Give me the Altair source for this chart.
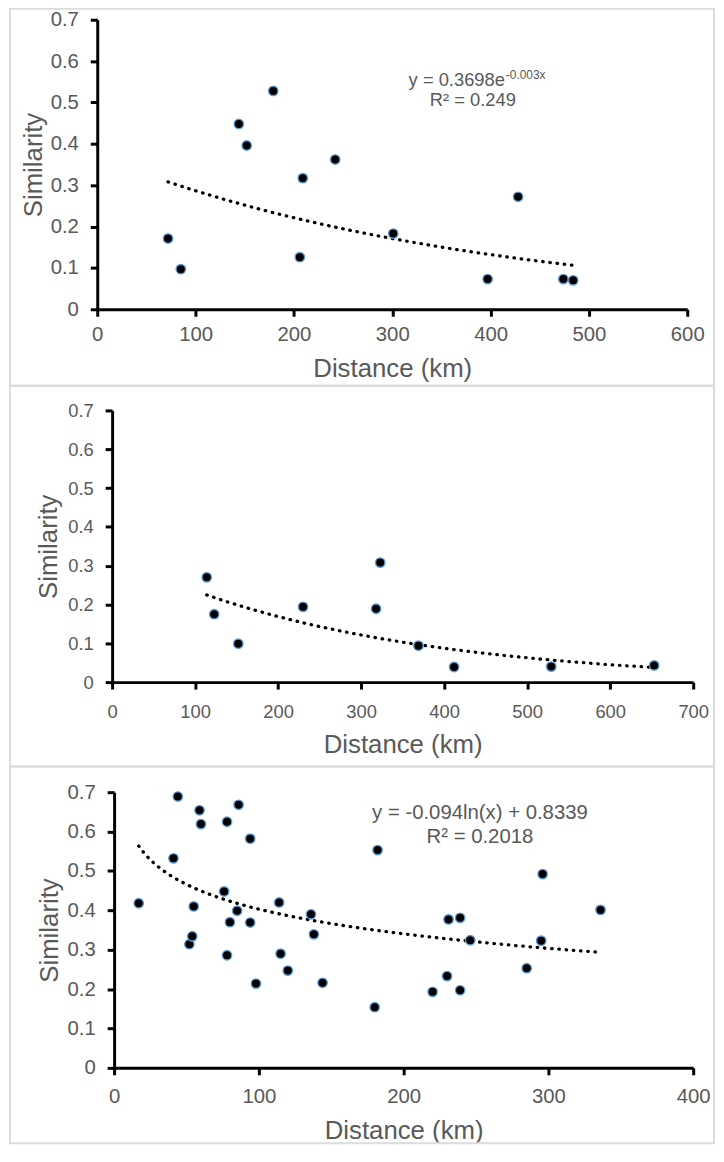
import altair as alt
import pandas as pd

# ---------------- data ----------------
p1_dist = [72, 85, 144, 152, 179, 206, 209, 242, 301, 397, 428, 474, 484]
p1_sim = [0.171, 0.097, 0.448, 0.396, 0.528, 0.126, 0.317, 0.362, 0.183, 0.073, 0.272, 0.073, 0.070]

p2_dist = [114, 123, 152, 230, 318, 323, 369, 412, 529, 653]
p2_sim = [0.270, 0.175, 0.099, 0.194, 0.189, 0.308, 0.094, 0.039, 0.040, 0.043]

p3_dist = [17, 41, 44, 52, 54, 55, 59, 60, 76, 78, 78, 80, 85, 86, 94, 94, 98,
           114, 115, 120, 136, 138, 144, 180, 182, 220, 230, 231, 239, 239, 246,
           285, 295, 296, 336]
p3_sim = [0.418, 0.532, 0.689, 0.314, 0.334, 0.410, 0.654, 0.619, 0.448, 0.625, 0.286,
          0.370, 0.399, 0.668, 0.582, 0.369, 0.214, 0.420, 0.290, 0.247, 0.390, 0.339,
          0.216, 0.154, 0.553, 0.193, 0.233, 0.377, 0.197, 0.381, 0.324, 0.253, 0.323,
          0.492, 0.401]

y_ticks = [0, 0.1, 0.2, 0.3, 0.4, 0.5, 0.6, 0.7]

# annotations
p1_eq_main = ["y = 0.3698e"]
p1_eq_sup = ["-0.003x"]
p1_r2 = ["R² = 0.249"]
p3_eq_main = ["y = -0.094ln(x) + 0.8339"]
p3_r2 = ["R² = 0.2018"]

GRAY = "#595959"
FONT = "Liberation Sans"


def trend_chart(df, kind):
    # least-squares trend fitted in Vega (Excel style: exp -> ln(y) on x, log -> y on ln(x))
    if kind == "exp":
        c = alt.Chart(df).transform_calculate(u="datum.dist", v="log(datum.sim)")
    else:
        c = alt.Chart(df).transform_calculate(u="log(datum.dist)", v="datum.sim")
    c = (c.transform_calculate(uv="datum.u*datum.v")
          .transform_calculate(uu="datum.u*datum.u")
          .transform_calculate(one="1")
          .transform_aggregate(n="sum(one)", su="sum(u)", sv="sum(v)", suv="sum(uv)",
                               suu="sum(uu)", xmin="min(dist)", xmax="max(dist)")
          .transform_calculate(b="(datum.n*datum.suv - datum.su*datum.sv)/(datum.n*datum.suu - datum.su*datum.su)")
          .transform_calculate(a="(datum.sv - datum.b*datum.su)/datum.n")
          .transform_calculate(t="sequence(0, 121)")
          .transform_flatten(["t"])
          .transform_calculate(dist="datum.xmin + datum.t*(datum.xmax - datum.xmin)/120"))
    if kind == "exp":
        c = c.transform_calculate(sim="exp(datum.a + datum.b*datum.dist)")
    else:
        c = c.transform_calculate(sim="datum.a + datum.b*log(datum.dist)")
    return c


def make_panel(dist, sim, kind, x_max, x_range, H, y_top, frame, label_size, y_label_pad,
               y_title_pad, x_label_pad, x_title_pad, notes):
    df = pd.DataFrame({"dist": dist, "sim": sim})
    xscale = alt.Scale(domain=[0, x_max], nice=False, range=x_range)
    yscale = alt.Scale(domain=[0, 0.7], nice=False, range=[H, y_top])
    xaxis = alt.Axis(values=list(range(0, x_max + 1, 100)), format="d",
                     labelFontSize=label_size, labelPadding=x_label_pad,
                     titlePadding=x_title_pad, labelFlush=False)
    yaxis = alt.Axis(values=y_ticks, format="~g", labelFontSize=label_size,
                     labelPadding=y_label_pad, titlePadding=y_title_pad,
                     offset=-x_range[0], labelFlush=False)
    xenc = alt.X("dist:Q", scale=xscale, axis=xaxis, title="Distance (km)")
    yenc = alt.Y("sim:Q", scale=yscale, axis=yaxis, title="Similarity")

    frame_layer = alt.Chart(pd.DataFrame({"k": [0]})).mark_rect(
        fillOpacity=0, stroke="#dcdcdc", strokeWidth=2
    ).encode(x=alt.value(frame[0]), x2=alt.value(frame[1]),
             y=alt.value(frame[2]), y2=alt.value(frame[3]))

    trend = trend_chart(df, kind).mark_line(
        color="black", strokeWidth=3.3, strokeDash=[0.5, 6.8], strokeCap="round"
    ).encode(x=xenc, y=yenc)

    points = alt.Chart(df).mark_circle(
        size=90, color="black", opacity=1, stroke="#5b9bd5", strokeWidth=1.4
    ).encode(x=xenc, y=yenc)

    layers = [frame_layer, trend, points]
    for n in notes:
        ndf = pd.DataFrame({"dist": [n["x"]], "sim": [n["y"]], "label": n["text"]})
        layers.append(
            alt.Chart(ndf).mark_text(
                font=FONT, fontSize=n["size"], color=GRAY, align=n["align"], baseline="middle"
            ).encode(x=xenc, y=yenc, text="label:N")
        )
    return alt.layer(*layers).properties(width=x_range[1], height=H)


panel1 = make_panel(
    p1_dist, p1_sim, "exp", 600, [0, 595], 292, 0, (-88, 622, -11, 369),
    20.5, 12, 4, 8, 11,
    [
        {"x": 414.6, "y": 0.553, "text": p1_eq_main, "size": 18.5, "align": "right"},
        {"x": 415.5, "y": 0.567, "text": p1_eq_sup, "size": 12, "align": "left"},
        {"x": 382, "y": 0.507, "text": p1_r2, "size": 18.5, "align": "center"},
    ],
)

panel2 = make_panel(
    p2_dist, p2_sim, "exp", 700, [15, 601], 299, 25, (-88, 622, 0, 384),
    18.5, 12, 6, 14, 10, [],
)

panel3 = make_panel(
    p3_dist, p3_sim, "log", 400, [17, 601], 312, 34, (-88, 622, 8, 388),
    20.5, 12, 5, 12, 11,
    [
        {"x": 252.7, "y": 0.647, "text": p3_eq_main, "size": 20.5, "align": "center"},
        {"x": 252.7, "y": 0.587, "text": p3_r2, "size": 20.5, "align": "center"},
    ],
)

chart = (
    alt.vconcat(panel1, panel2, panel3, spacing=77, bounds="flush")
    .properties(padding={"top": -6, "left": 0, "right": 0, "bottom": 0})
    .configure_view(stroke="transparent")
    .configure_axis(
        domainColor="black", domainWidth=3, tickColor="black", tickWidth=3, tickSize=7,
        labelColor=GRAY, titleColor=GRAY, titleFontSize=26, titleFontWeight="normal",
        labelFont=FONT, titleFont=FONT, grid=False,
    )
)

chart.save("out.html", embed_options={"renderer": "svg", "actions": False})
